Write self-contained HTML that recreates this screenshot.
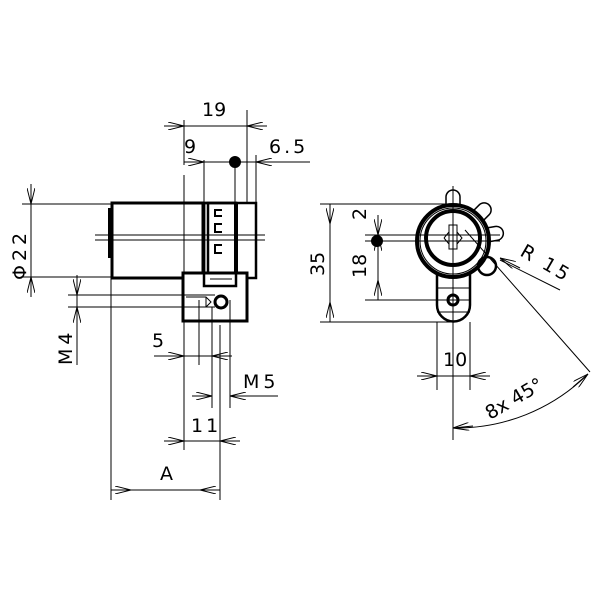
<!DOCTYPE html>
<html><head><style>body{margin:0;background:#fff}svg{display:block}text{font-family:"DejaVu Sans","Liberation Sans",sans-serif;font-size:19px;fill:#000}</style></head>
<body>
<svg width="600" height="600" viewBox="0 0 600 600" xmlns="http://www.w3.org/2000/svg">
<defs>
<marker id="a" viewBox="0 0 20 10" refX="0" refY="5" markerWidth="16" markerHeight="8" orient="auto" markerUnits="userSpaceOnUse"><path d="M20,0 L0,5 L20,10" fill="none" stroke="#000" stroke-width="1.2"/></marker>
</defs>
<g stroke="#000" fill="none" stroke-width="1">
<!-- left view body -->
<rect x="112" y="203" width="91" height="75" stroke-width="3"/>
<path d="M110,208 L110,258" stroke-width="4"/>
<rect x="208" y="203" width="48" height="75" stroke-width="2.5"/>
<rect x="204" y="203" width="32" height="83" stroke-width="2.5"/>
<path d="M236,203 L236,286" stroke-width="4"/>
<rect x="183" y="273" width="64" height="48" fill="#fff" stroke-width="3"/>
<rect x="204" y="203" width="32" height="83" stroke-width="2.5" fill="none"/>
<path d="M222,210 h-7 v6 h7 M222,224 h-7 v8 h7 M222,245 h-7 v8 h7" stroke-width="2"/>
<path d="M210,279 h22" />
<circle cx="221" cy="302" r="6" stroke-width="3"/>
<path d="M186,297 h20 l5,5 l-5,5 h-20 M206,297 v10"/>
<!-- centerlines / extension -->
<path d="M95,235 H265 M95,240 H265"/>
<path d="M68,295 H215 M68,307 H215"/>
<path d="M22,204 H112 M22,277 H112"/>
<path d="M111,278 V500 M184,175 V450 M184,120 V165 M247,110 V203 M204,160 V203 M256,155 V203 M235,165 V203 M199,300 V365 M212,307 V365 M212,320 V408 M230,300 V408 M220,325 V500"/>
<!-- dims left -->
<path d="M184,126 H247"/><path d="M184,126 H164" marker-start="url(#a)"/><path d="M247,126 H267" marker-start="url(#a)"/>
<path d="M204,162 H310"/><path d="M204,162 H184" marker-start="url(#a)"/><path d="M256,162 H276" marker-start="url(#a)"/>
<path d="M31,204 V277"/><path d="M31,204 V184" marker-start="url(#a)"/><path d="M31,277 V297" marker-start="url(#a)"/>
<path d="M77,295 V365"/><path d="M77,295 V275" marker-start="url(#a)"/><path d="M77,307 V327" marker-start="url(#a)"/>
<path d="M184,356 H154" marker-start="url(#a)"/><path d="M212,356 H232" marker-start="url(#a)"/><path d="M184,356 H212"/>
<path d="M212,396 H192" marker-start="url(#a)"/><path d="M230,396 H278"/><path d="M230,396 H250" marker-start="url(#a)"/>
<path d="M184,441 H220"/><path d="M184,441 H164" marker-start="url(#a)"/><path d="M220,441 H240" marker-start="url(#a)"/>
<path d="M111,490 H220"/><path d="M111,490 H131" marker-start="url(#a)" transform="rotate(180 121 490)"/>
<path d="M220,490 H200" marker-start="url(#a)" transform="rotate(180 210 490)"/>
<!-- right view -->
<g transform="translate(453,241)" stroke-width="1.5" fill="#fff">
<g transform="rotate(0)"><path d="M-7,-36 V-44 a7,7 0 0 1 14,0 V-36"/></g>
<g transform="rotate(45)"><path d="M-7,-36 V-44 a7,7 0 0 1 14,0 V-36"/></g>
<g transform="rotate(80)"><path d="M-7,-36 V-44 a7,7 0 0 1 14,0 V-36"/></g>
</g>
<path d="M437,262 V305 a16.5,16.5 0 0 0 33,0 V262" stroke-width="2.5" fill="#fff"/>
<path d="M437,288 H470 M437,312 H470"/>
<circle cx="453" cy="241" r="36" stroke-width="4" fill="#fff"/>
<circle cx="453" cy="241" r="33"/>
<circle cx="453" cy="238" r="27" stroke-width="4"/>
<circle cx="487" cy="266" r="9" stroke-width="2.5"/>
<circle cx="453" cy="300" r="5" stroke-width="3"/>
<path d="M449,225 v24 h8 v-24 z"/>
<path d="M444,238 l5,-6 M444,238 l5,6 M457,232 l5,6 l-5,6"/>
<!-- right centerlines -->
<path d="M453,186 V440"/>
<path d="M320,204 H453 M320,322 H453 M365,235 H500 M365,241 H500 M365,300 H470"/>
<path d="M437,322 V390 M470,322 V390"/>
<path d="M465,230 L590,372 M500,260 L560,290"/>
<!-- right dims -->
<path d="M330,204 V322"/><path d="M330,204 V224" marker-start="url(#a)" transform="rotate(180 330 214)"/>
<path d="M330,322 V302" marker-start="url(#a)" transform="rotate(180 330 312)"/>
<path d="M378,235 V300"/><path d="M378,215 V235" marker-end="url(#a)"/>
<path d="M378,300 V280" marker-start="url(#a)" transform="rotate(180 378 290)"/>
<path d="M378,215 V235" transform="rotate(180 378 225)" marker-start="url(#a)"/>
<path d="M437,376 H470"/><path d="M437,376 H417" marker-start="url(#a)"/><path d="M470,376 H490" marker-start="url(#a)"/>
<path d="M500,258 L520,268" marker-start="url(#a)"/>
<path d="M453,428 A187,187 0 0 0 588,374"/>
<path d="M453,428 L473,426" marker-start="url(#a)"/>
<path d="M588,374 L573,387" marker-start="url(#a)"/>
</g>
<circle cx="235" cy="162" r="6"/>
<circle cx="377" cy="241" r="6"/>
<text x="202" y="116">19</text>
<text x="184" y="153">9</text>
<text x="269" y="153" letter-spacing="3">6.5</text>
<text transform="translate(26,280) rotate(-90)" letter-spacing="4">Φ22</text>
<text transform="translate(72,365) rotate(-90)" letter-spacing="4">M4</text>
<text x="152" y="347">5</text>
<text x="243" y="388" letter-spacing="4">M5</text>
<text x="191" y="432" letter-spacing="3">11</text>
<text x="160" y="480">A</text>
<text transform="translate(324,276) rotate(-90)">35</text>
<text transform="translate(366,220) rotate(-90)">2</text>
<text transform="translate(366,278) rotate(-90)">18</text>
<text x="443" y="366">10</text>
<text transform="translate(519,255) rotate(30)" letter-spacing="3">R 15</text>
<text transform="translate(490,420) rotate(-30)">8x 45°</text>
</svg>
</body></html>
